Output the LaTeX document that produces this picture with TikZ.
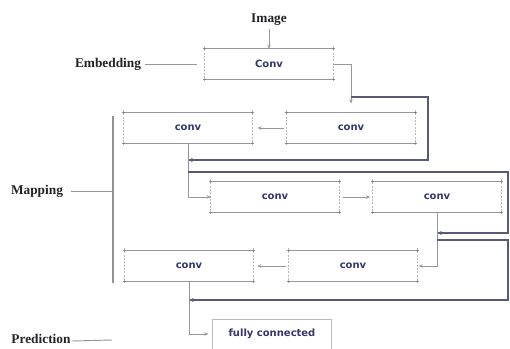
\documentclass[tikz,border=0pt]{standalone}
\usepackage{fontspec}
\setmainfont{Liberation Serif}
\newfontfamily\boxfont{DejaVu Sans}
\usetikzlibrary{arrows.meta}
\definecolor{navy}{RGB}{52,56,110}
\definecolor{edgegray}{RGB}{150,150,158}
\definecolor{sidegray}{RGB}{185,185,192}
\definecolor{skipcol}{RGB}{88,90,118}
\definecolor{labcol}{RGB}{35,35,40}
\tikzset{
  lab/.style={font=\fontsize{10}{11}\selectfont\bfseries, text=labcol, inner sep=0pt},
  cbox/.style={font=\boxfont\fontsize{7.5}{8}\selectfont\bfseries, text=navy,
    minimum width=96pt, minimum height=22.5pt, inner sep=0pt},
  fcbox/.style={cbox, draw=sidegray, line width=0.5pt, minimum width=89pt},
  conn/.style={draw=edgegray, line width=0.6pt, -{Stealth[length=3pt,width=2.6pt]}},
  plainline/.style={draw=edgegray, line width=0.7pt},
  skip/.style={draw=skipcol, line width=1.2pt, -{Stealth[length=3.5pt,width=3pt]}},
  bracket/.style={draw=gray!85, line width=1.2pt},
  topbot/.style={draw=edgegray, line width=0.5pt},
  sides/.style={draw=sidegray, line width=0.5pt, dash pattern=on 1.5pt off 1pt},
}
\begin{document}
\begin{tikzpicture}[x=0.75pt, y=-0.75pt]
\useasboundingbox (0,0) rectangle (510,349);
\fill[white] (0,0) rectangle (510,349);

% labels
\node[lab] (image) at (269,20) {Image};
\node[lab] (emb) at (108,64) {Embedding};
\node[lab] (map) at (37,191) {Mapping};
\node[lab] (pred) at (41,339) {Prediction};

% boxes
\node[cbox] (conv0) at (269,64) {Conv};
\node[cbox] (A) at (188,128) {conv};
\node[cbox] (B) at (351,128) {conv};
\node[cbox] (C) at (275,197) {conv};
\node[cbox] (D) at (437,197) {conv};
\node[cbox] (E) at (353,266) {conv};
\node[cbox] (F) at (189,266) {conv};
\node[fcbox] (fc) at (272,334) {fully connected};

\foreach \n in {conv0,A,B,C,D,E,F}{
  \draw[topbot] ([xshift=-1.5pt]\n.north west) -- ([xshift=1.5pt]\n.north east);
  \draw[topbot] ([xshift=-1.5pt]\n.south west) -- ([xshift=1.5pt]\n.south east);
  \draw[sides] ([yshift=2pt]\n.north west) -- ([yshift=-2pt]\n.south west);
  \draw[sides] ([yshift=2pt]\n.north east) -- ([yshift=-2pt]\n.south east);
  \foreach \c in {north west,north east,south west,south east}
    \fill[edgegray!80!black] (\n.\c) circle (0.75pt);
}

% label lines
\coordinate (embEnd) at (197,64);
\coordinate (mapTop) at (113,116);
\coordinate (mapBot) at (113,283);
\coordinate (mapMid) at (113,191);
\coordinate (predEnd) at (112,340);
\draw[plainline] ([xshift=3pt]emb.east) -- (embEnd);
\draw[bracket] (mapTop) -- (mapBot);
\draw[plainline] ([xshift=6pt]map.east) -- (mapMid);
\draw[plainline] ([xshift=1pt,yshift=-1.5pt]pred.east) -- (predEnd);

% main flow
\draw[conn] ([yshift=-2pt]image.south) -- (conv0.north);
\draw[conn] (conv0.east) -| ([yshift=7pt]B.north);
\draw[conn] ([xshift=-2pt]B.west) -- ([xshift=4pt]A.east);
\draw[conn] (A.south) |- (C.west);
\draw[conn] ([xshift=3pt]C.east) -- ([xshift=-2pt]D.west);
\draw[conn] (D.south) |- ([xshift=1pt]E.east);
\draw[conn] ([xshift=-2pt]E.west) -- ([xshift=3pt]F.east);
\draw[conn] (F.south) |- ([xshift=-3pt]fc.west);

% skip connections
\coordinate (s1a) at (351,97);
\coordinate (s1b) at (428,97);
\coordinate (s1c) at (428,160);
\coordinate (s1d) at (188,160);
\draw[skip] (s1a) -- (s1b) -- (s1c) -- (s1d);

\coordinate (s2a) at (188,172);
\coordinate (s2b) at (508,172);
\coordinate (s2c) at (508,233);
\coordinate (s2d) at (437,233);
\draw[skip] (s2a) -- (s2b) -- (s2c) -- (s2d);

\coordinate (s3a) at (437,240);
\coordinate (s3b) at (508,240);
\coordinate (s3c) at (508,300);
\coordinate (s3d) at (189,300);
\draw[skip] (s3a) -- (s3b) -- (s3c) -- (s3d);
\end{tikzpicture}
\end{document}
